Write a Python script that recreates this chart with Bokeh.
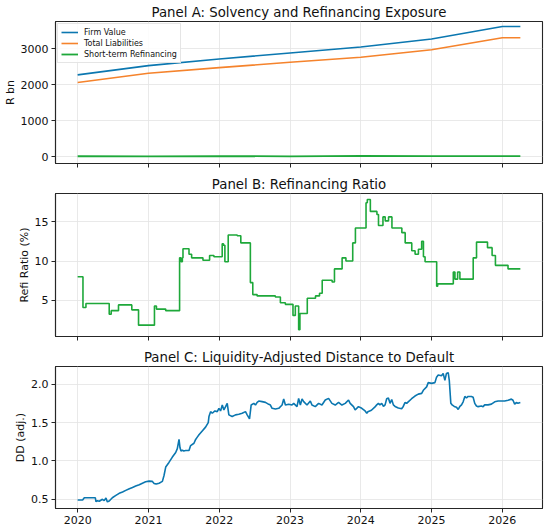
from bokeh.plotting import figure
from bokeh.layouts import column
from bokeh.models import FixedTicker, Range1d
from bokeh.embed import file_html
from bokeh.resources import INLINE

# ---------------- data ----------------
year_ticks = [2020, 2021, 2022, 2023, 2024, 2025, 2026]

# Panel A (R bn)
a_t = [2020.0, 2021.0, 2022.0, 2023.0, 2024.0, 2025.0, 2026.0, 2026.254]
firm_value = [2278, 2537, 2722, 2889, 3056, 3278, 3628, 3628]
total_liabilities = [2065, 2324, 2481, 2630, 2769, 2981, 3315, 3315]
short_term_refi = [8, 5, 12, 6, 18, 10, 12, 12]

# Panel B (refinancing ratio, %), step changes
b_t = [2020.0, 2020.075, 2020.117, 2020.446, 2020.474, 2020.577, 2020.765, 2020.86,
       2021.085, 2021.113, 2021.244, 2021.44, 2021.46, 2021.479, 2021.488, 2021.573,
       2021.61, 2021.77, 2021.864, 2021.925, 2022.042, 2022.06, 2022.08, 2022.127,
       2022.254, 2022.305, 2022.44, 2022.474, 2022.535, 2022.793, 2022.864, 2022.934,
       2023.042, 2023.075, 2023.122, 2023.14, 2023.244, 2023.36, 2023.417, 2023.455,
       2023.595, 2023.628, 2023.736, 2023.79, 2023.886, 2023.924, 2024.074, 2024.092,
       2024.135, 2024.228, 2024.25, 2024.313, 2024.345, 2024.392, 2024.44, 2024.58,
       2024.627, 2024.72, 2024.767, 2024.814, 2024.86, 2024.885, 2024.908, 2025.072,
       2025.086, 2025.307, 2025.33, 2025.368, 2025.40, 2025.588, 2025.635, 2025.79,
       2025.855, 2025.902, 2026.08, 2026.254]
b_val = [8.0, 4.1, 4.6, 3.25, 3.7, 4.43, 3.8, 1.86,
         4.3, 3.9, 3.7, 10.4, 9.9, 10.4, 11.56, 10.85,
         10.4, 10.1, 10.7, 10.55, 12.2, 12.0, 9.9, 13.3,
         13.2, 12.3, 7.26, 5.74, 5.57, 5.44, 4.7, 4.5,
         3.1, 4.3, 1.27, 3.33, 5.27, 5.57, 5.9, 7.55,
         7.34, 9.0, 10.4, 10.0, 12.3, 14.2, 17.4, 17.8,
         16.3, 15.9, 14.5, 15.6, 15.1, 15.6, 14.2, 13.6,
         12.3, 11.3, 10.85, 11.5, 12.5, 10.55, 9.9, 6.8,
         7.1, 8.6, 7.7, 8.6, 7.7, 10.4, 12.4, 11.7,
         10.7, 9.45, 9.0, 9.0]

# Panel C (liquidity-adjusted distance to default)
c_t = [2020.0, 2020.07, 2020.094, 2020.25, 2020.258, 2020.28, 2020.305, 2020.35,
       2020.375, 2020.40, 2020.42, 2020.446, 2020.49, 2020.54, 2020.587, 2020.634,
       2020.68, 2020.73, 2020.775, 2020.82, 2020.87, 2020.915, 2020.96, 2021.01,
       2021.056, 2021.08, 2021.11, 2021.15, 2021.197, 2021.22, 2021.244, 2021.29,
       2021.338, 2021.385, 2021.408, 2021.432, 2021.446, 2021.46, 2021.479, 2021.50,
       2021.526, 2021.573, 2021.596, 2021.643, 2021.667, 2021.69, 2021.714, 2021.76,
       2021.807, 2021.845,
       2021.855, 2021.878, 2021.902, 2021.939, 2021.972, 2021.996, 2022.019, 2022.043,
       2022.066, 2022.09, 2022.113, 2022.136, 2022.183, 2022.23, 2022.277, 2022.324,
       2022.371, 2022.395, 2022.428, 2022.451, 2022.489, 2022.512, 2022.536, 2022.559,
       2022.606, 2022.653, 2022.70, 2022.723, 2022.747, 2022.794, 2022.841, 2022.888,
       2022.911, 2022.935, 2022.982, 2023.028, 2023.052, 2023.099, 2023.122, 2023.146,
       2023.17, 2023.193, 2023.24, 2023.287, 2023.31, 2023.357, 2023.404, 2023.451,
       2023.498, 2023.545, 2023.592, 2023.639, 2023.686, 2023.733, 2023.78, 2023.827,
       2023.85, 2023.897, 2023.92, 2023.967, 2024.014, 2024.061, 2024.085,
       2024.10, 2024.15, 2024.197,
       2024.225, 2024.249, 2024.27, 2024.296, 2024.32, 2024.343, 2024.366, 2024.39,
       2024.413, 2024.437, 2024.46, 2024.484, 2024.53, 2024.577, 2024.60, 2024.624,
       2024.648, 2024.67, 2024.718, 2024.765, 2024.812, 2024.86, 2024.883, 2024.93,
       2024.953, 2025.0, 2025.047, 2025.07, 2025.094, 2025.14, 2025.164, 2025.188,
       2025.21, 2025.235, 2025.25, 2025.272, 2025.29, 2025.32, 2025.352, 2025.376,
       2025.40, 2025.423, 2025.446, 2025.47, 2025.493, 2025.516, 2025.563, 2025.587,
       2025.61, 2025.634, 2025.657, 2025.704, 2025.728, 2025.75, 2025.798, 2025.845,
       2025.892, 2025.94, 2025.986, 2026.033, 2026.08, 2026.127, 2026.15, 2026.174,
       2026.197, 2026.22, 2026.254]
c_val = [0.49, 0.49, 0.52, 0.52, 0.47, 0.48, 0.475, 0.50,
         0.483, 0.517, 0.466, 0.478, 0.52, 0.55, 0.578, 0.595,
         0.616, 0.638, 0.655, 0.672, 0.69, 0.71, 0.728, 0.737,
         0.733, 0.707, 0.698, 0.71, 0.733, 0.81, 0.92, 0.98,
         1.05, 1.11, 1.16, 1.28, 1.17, 1.13, 1.14, 1.13,
         1.135, 1.135, 1.2, 1.23, 1.28, 1.31, 1.34, 1.39,
         1.44, 1.50,
         1.578, 1.642, 1.621, 1.651, 1.642, 1.685, 1.651, 1.728,
         1.664, 1.707, 1.75, 1.60, 1.578, 1.60, 1.608, 1.621,
         1.642, 1.60, 1.547, 1.728, 1.75, 1.728, 1.763, 1.78,
         1.772, 1.763, 1.737, 1.728, 1.685, 1.677, 1.685, 1.728,
         1.806, 1.728, 1.737, 1.728, 1.75, 1.707, 1.815, 1.728,
         1.806, 1.772, 1.728, 1.78, 1.728, 1.707, 1.75, 1.728,
         1.793, 1.815, 1.75, 1.728, 1.763, 1.728, 1.75, 1.793,
         1.75, 1.707, 1.664, 1.707, 1.685, 1.651, 1.621,
         1.64, 1.66, 1.70,
         1.73, 1.75, 1.73, 1.75, 1.71, 1.73, 1.81, 1.82,
         1.75, 1.80, 1.73, 1.71, 1.69, 1.68, 1.71, 1.76,
         1.75, 1.77, 1.81, 1.845, 1.87, 1.88, 1.92, 1.965,
         2.02, 2.01, 2.02, 2.09, 2.12, 2.11, 2.14, 2.05,
         2.14, 2.15, 2.05, 1.75, 1.73, 1.71, 1.70, 1.67,
         1.71, 1.73, 1.77, 1.84, 1.82, 1.84, 1.84, 1.83,
         1.75, 1.715, 1.707, 1.715, 1.707, 1.73, 1.73, 1.74,
         1.77, 1.78, 1.78, 1.78, 1.79, 1.805, 1.79, 1.74,
         1.76, 1.75, 1.76]

# ---------------- styling ----------------
FONT = "DejaVu Sans"
BLUE = "#0b77b0"
ORANGE = "#f5832c"
GREEN = "#1ea83a"
FRAME = "#262626"
GRID = "#e3e3e3"

x_range = Range1d(2019.687, 2026.567)


def make_fig(height, top, bottom, y0, y1, title, ylabel, yticks, show_xlabels, standoff):
    p = figure(width=546, height=height, x_range=x_range, y_range=Range1d(y0, y1),
               output_backend="svg", toolbar_location=None,
               min_border_left=50, min_border_right=4,
               min_border_top=top, min_border_bottom=bottom)
    p.title.text = title
    p.title.text_font = FONT
    p.title.text_font_size = "13.3px"
    p.title.text_font_style = "normal"
    p.title.text_color = "#111111"
    p.title.align = "center"
    p.title.standoff = standoff
    p.outline_line_color = FRAME
    p.outline_line_width = 1.1
    p.outline_line_alpha = 1
    p.background_fill_color = "white"
    p.border_fill_color = "white"
    for ax in (p.xaxis[0], p.yaxis[0]):
        ax.axis_line_color = FRAME
        ax.axis_line_width = 1.1
        ax.major_tick_line_color = FRAME
        ax.major_tick_out = 4
        ax.major_tick_in = 0
        ax.minor_tick_line_color = None
        ax.major_label_text_font = FONT
        ax.major_label_text_font_size = "11px"
        ax.major_label_text_color = "#111111"
        ax.major_label_standoff = 3
    p.xaxis.ticker = FixedTicker(ticks=year_ticks)
    if not show_xlabels:
        p.xaxis.major_label_overrides = {t: "" for t in year_ticks}
        p.xaxis.major_label_text_font_size = "0px"
        p.xaxis.major_label_standoff = 0
    p.yaxis.ticker = FixedTicker(ticks=yticks)
    p.yaxis.axis_label = ylabel
    p.yaxis.axis_label_text_font = FONT
    p.yaxis.axis_label_text_font_size = "11px"
    p.yaxis.axis_label_text_font_style = "normal"
    p.yaxis.axis_label_text_color = "#111111"
    p.yaxis.axis_label_standoff = 1
    p.xgrid.ticker = FixedTicker(ticks=year_ticks)
    for g in (p.xgrid[0], p.ygrid[0]):
        g.grid_line_color = GRID
        g.grid_line_width = 0.8
    return p


# Panel A
pa = make_fig(172, 21, 9, -194, 3767, "Panel A: Solvency and Refinancing Exposure",
              "R bn", [0, 1000, 2000, 3000], False, 3)
pa.line(a_t, firm_value, line_color=BLUE, line_width=1.6, legend_label="Firm Value")
pa.line(a_t, total_liabilities, line_color=ORANGE, line_width=1.6, legend_label="Total Liabilities")
pa.line(a_t, short_term_refi, line_color=GREEN, line_width=1.8, legend_label="Short-term Refinancing")
lg = pa.legend[0]
lg.location = "top_left"
lg.label_text_font = FONT
lg.label_text_font_size = "8px"
lg.label_text_color = "#111111"
lg.label_height = 10
lg.glyph_height = 10
lg.glyph_width = 17
lg.label_standoff = 6
lg.spacing = 1
lg.padding = 3
lg.margin = 2
lg.border_line_color = "#cccccc"
lg.border_line_width = 1
lg.background_fill_alpha = 0.85

# Panel B
pb = make_fig(173, 20, 9, 0.42, 18.57, "Panel B: Refinancing Ratio",
              "Refi Ratio (%)", [5, 10, 15], False, 4)
pb.step(b_t, b_val, mode="after", line_color=GREEN, line_width=1.6)

# Panel C
pc = make_fig(183, 20, 20, 0.38, 2.23, "Panel C: Liquidity-Adjusted Distance to Default",
              "DD (adj.)", [0.5, 1.0, 1.5, 2.0], True, 4)
pc.yaxis.major_label_overrides = {0.5: "0.5", 1.0: "1.0", 1.5: "1.5", 2.0: "2.0"}
pc.line(c_t, c_val, line_color=BLUE, line_width=1.6)

layout = column(pa, pb, pc, spacing=0)
open("out.html", "w").write(file_html(layout, INLINE))
